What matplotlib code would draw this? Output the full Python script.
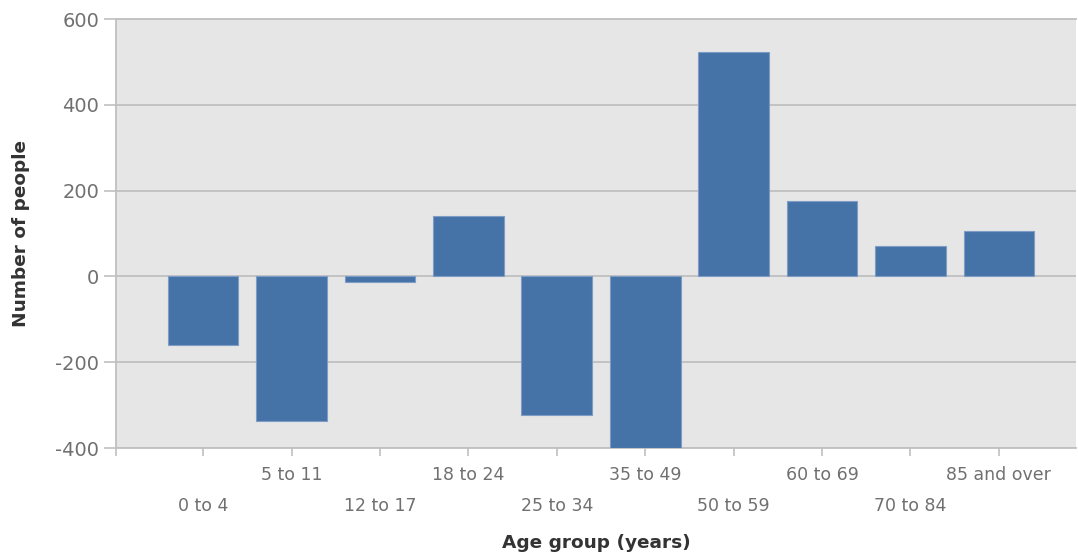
import numpy as np
import matplotlib
matplotlib.use("Agg")
import matplotlib.pyplot as plt

age_groups = ['0 to 4', '5 to 11', '12 to 17', '18 to 24', '25 to 34',
              '35 to 49', '50 to 59', '60 to 69', '70 to 84', '85 and over']
change = [-160, -337, -13, 140, -322, -400, 522, 176, 70, 107]
y_ticks = [-400, -200, 0, 200, 400, 600]

bar_color = '#4572a7'
grid_color = '#c0c0c0'
label_color = '#707070'

fig = plt.figure(figsize=(10.78, 5.54), dpi=100)
ax = fig.add_axes([0.1076, 0.1913, 0.8904, 0.7744])
ax.set_facecolor('#e6e6e6')

x = np.arange(len(age_groups))
ax.bar(x, change, width=0.8, color=bar_color, edgecolor='#7d9cc6', linewidth=0.8, zorder=3)

ax.set_xlim(-0.985, 9.87)
ax.set_ylim(-400, 600)
ax.set_yticks(y_ticks)
ax.set_yticklabels([str(v) for v in y_ticks])
ax.grid(axis='y', color=grid_color, linewidth=1.3, zorder=1)

# alternating rows of category labels: odd ones high, even ones low
odd = x[1::2]
even = x[0::2]
ax.set_xticks(odd)
ax.set_xticklabels([age_groups[i] for i in odd])
ax.set_xticks(list(even) + [-0.985], minor=True)
ax.set_xticklabels([age_groups[i] for i in even] + [''], minor=True)

ax.tick_params(axis='x', which='major', length=6, width=1.2, color=grid_color,
               pad=7, labelsize=12.5, labelcolor=label_color)
ax.tick_params(axis='x', which='minor', length=6, width=1.2, color=grid_color,
               pad=29, labelsize=12.5, labelcolor=label_color)
ax.tick_params(axis='y', length=9, width=1.2, color=grid_color,
               pad=3, labelsize=14, labelcolor=label_color)

ax.spines['right'].set_visible(False)
for side in ['left', 'bottom', 'top']:
    ax.spines[side].set_color(grid_color)
    ax.spines[side].set_linewidth(1.3)

ax.set_xlabel('Age group (years)', fontsize=13.3, fontweight='bold', color='#333333', labelpad=14)
ax.set_ylabel('Number of people', fontsize=13.3, fontweight='bold', color='#333333', labelpad=18)

fig.savefig('out.png', dpi=100)
